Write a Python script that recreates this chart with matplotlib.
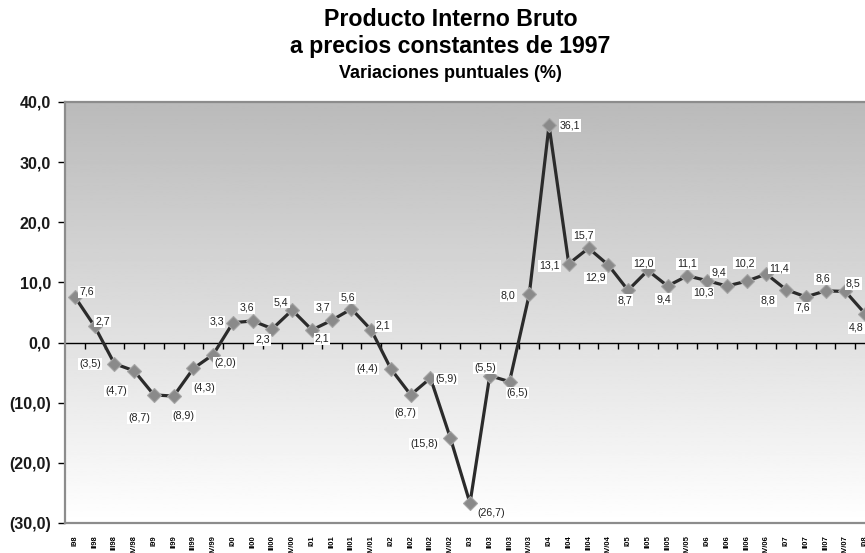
import numpy as np
import matplotlib
matplotlib.use("Agg")
import matplotlib.pyplot as plt

plt.rcParams["font.family"] = ["Liberation Sans", "DejaVu Sans"]

#### Data
quarters = ["I98", "II98", "III98", "IV/98", "I99", "II99", "III99", "IV/99",
            "I00", "II00", "III00", "IV/00", "I01", "II01", "III01", "IV/01",
            "I02", "II02", "III02", "IV/02", "I03", "II03", "III03", "IV/03",
            "I04", "II04", "III04", "IV/04", "I05", "II05", "III05", "IV/05",
            "I06", "II06", "III06", "IV/06", "I07", "II07", "III07", "IV/07",
            "I08"]
pib_var = [7.6, 2.7, -3.5, -4.7, -8.7, -8.9, -4.3, -2.0,
           3.3, 3.6, 2.3, 5.4, 2.1, 3.7, 5.6, 2.1,
           -4.4, -8.7, -5.9, -15.8, -26.7, -5.5, -6.5, 8.0,
           36.1, 13.1, 15.7, 12.9, 8.7, 12.0, 9.4, 11.1,
           10.3, 9.4, 10.2, 11.4, 8.8, 7.6, 8.6, 8.5,
           4.8]
y_ticks = [-30, -20, -10, 0, 10, 20, 30, 40]

# label offsets in pixels (dx, dy), dy positive = down
label_off = [(12, -5), (8, -5), (-24, 0), (-18, 20), (-15, 23), (10, 20),
             (11, 20), (12, 8), (-16, -1), (-6, -13), (-10, 11), (-11, -8),
             (10, 9), (-9, -13), (-4, -11), (12, -4), (-24, 0), (-5, 18),
             (16, 1), (-26, 6), (21, 10), (-5, -8), (8, 11), (-21, 1),
             (21, 0), (-19, 2), (-5, -13), (-13, 13), (-3, 10), (-4, -7),
             (-4, 13), (0, -12), (-4, 12), (-8, -14), (-2, -18), (13, -6),
             (-18, 11), (-3, 11), (-3, -12), (8, -8), (-9, 14)]


def fmt(v):
    s = ("%.1f" % abs(v)).replace(".", ",")
    return "(" + s + ")" if v < 0 else s


W, H = 865, 553
fig = plt.figure(figsize=(W / 100, H / 100), dpi=100)
ax = fig.add_axes([65 / W, 1 - 523 / H, (875 - 65) / W, (523 - 102) / H])

x = np.arange(len(quarters))
ax.set_xlim(-0.5, len(quarters) - 0.5)
ax.set_ylim(-30, 40)

# gradient background, gray at top -> white at bottom
grad = np.linspace(0.73, 1.0, 256).reshape(-1, 1)
ax.imshow(grad, cmap="gray", vmin=0, vmax=1, extent=[0, 1, 0, 1],
          transform=ax.transAxes, aspect="auto", zorder=0)

ax.plot(x, pib_var, color="#2b2b2b", lw=2.3, zorder=3,
        marker="D", ms=7.5, mfc="#8a8a8a", mec="#a5a5a5", mew=0.8)

for xi, v, (dx, dy) in zip(x, pib_var, label_off):
    ax.annotate(fmt(v), (xi, v), xytext=(dx * 0.72, -dy * 0.72),
                textcoords="offset points", ha="center", va="center",
                fontsize=7.7, color="#222222", zorder=5,
                bbox=dict(boxstyle="square,pad=0.1", fc="white", ec="none"))

# zero line with category ticks
ax.axhline(0, color="black", lw=1, zorder=2)
sec = ax.secondary_xaxis(30 / 70)
sec.set_xticks(np.arange(len(quarters) - 1) + 0.5)
sec.tick_params(axis="x", direction="out", length=4, width=1,
                labelbottom=False, labeltop=False, bottom=True, top=False)
sec.spines["bottom"].set_visible(False)
sec.spines["top"].set_visible(False)

# y axis
ax.set_yticks(y_ticks)
ax.set_yticklabels([fmt(t) for t in y_ticks], fontsize=11.5, fontweight="bold",
                   color="#1a1a1a")
ax.tick_params(axis="y", direction="out", length=5, width=1, color="black", pad=5)

# x labels at bottom
ax.set_xticks(x)
ax.set_xticklabels(quarters, rotation=90, fontsize=5.5, fontweight="bold",
                   va="top", ha="center")
ax.tick_params(axis="x", length=0, pad=9)

for s in ["left", "bottom", "top", "right"]:
    ax.spines[s].set_color("#8c8c8c")
    ax.spines[s].set_linewidth(1.6)

fig.text(451 / W, 1 - 19 / H, "Producto Interno Bruto", ha="center", va="center",
         fontsize=16.7, fontweight="bold")
fig.text(450 / W, 1 - 47 / H, "a precios constantes de 1997", ha="center",
         va="center", fontsize=16.7, fontweight="bold")
fig.text(450 / W, 1 - 73 / H, "Variaciones puntuales (%)", ha="center",
         va="center", fontsize=13, fontweight="bold")

fig.savefig("out.png", dpi=100)
